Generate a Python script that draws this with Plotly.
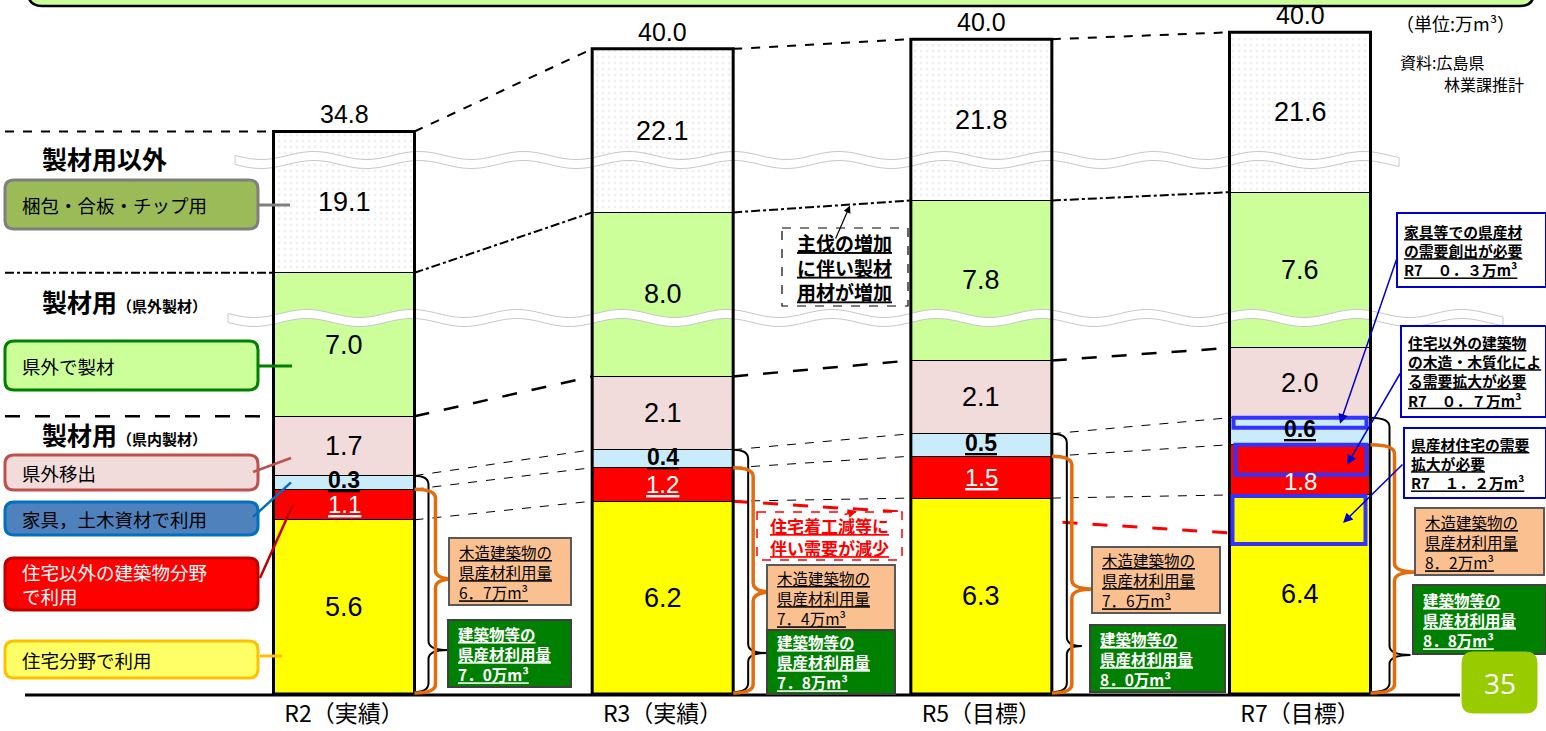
import math
import plotly.graph_objects as go

# ---------------- data (万m3) ----------------
categories   = ["R2（実績）", "R3（実績）", "R5（目標）", "R7（目標）"]
housing      = [5.6, 6.2, 6.3, 6.4]      # 住宅分野で利用
non_housing  = [1.1, 1.2, 1.5, 1.8]      # 住宅以外の建築物分野で利用
furniture    = [0.3, 0.4, 0.5, 0.6]      # 家具，土木資材で利用
outflow      = [1.7, 2.1, 2.1, 2.0]      # 県外移出
outside_sawn = [7.0, 8.0, 7.8, 7.6]      # 県外で製材
other_use    = [19.1, 22.1, 21.8, 21.6]  # 梱包・合板・チップ用
totals       = [34.8, 40.0, 40.0, 40.0]
wood_building_use = [6.7, 7.4, 7.6, 8.2]  # 木造建築物の県産材利用量
building_use      = [7.0, 7.8, 8.0, 8.8]  # 建築物等の県産材利用量
r7_needs          = [0.3, 0.7, 1.2]       # R7 必要な需要拡大量

# ---------------- layout constants ----------------
W, H = 1546, 731
BASE = 694                 # baseline (px from top)
SLOT = 318.67              # px per category
FIRST = 344.0              # px centre of first category
BARW = 141.0               # bar width px
# broken (compressed) axis: px per 万m3 inside each band
BAND_SCALE = [31.1, 27.9, 45.0, 34.9, 20.5, 7.4]
JP = "Noto Sans CJK JP"
NUM = "Liberation Sans, Noto Sans CJK JP"

series = [
    ("住宅分野で利用", housing, "#FFFF00"),
    ("住宅以外の建築物分野で利用", non_housing, "#FF0000"),
    ("家具，土木資材で利用", furniture, "#C9EBFA"),
    ("県外移出", outflow, "#F2DCDB"),
    ("県外で製材", outside_sawn, "#CCFF99"),
    ("梱包・合板・チップ用", other_use, "#FFFFFF"),
]

n = len(categories)
heights = [[v * BAND_SCALE[k] for v in vals] for k, (_, vals, _) in enumerate(series)]
bottoms, tops = [], []
run = [0.0] * n
for k in range(len(series)):
    bottoms.append(run[:])
    run = [run[i] + heights[k][i] for i in range(n)]
    tops.append(run[:])


def X(px):
    return px / W


def Y(py):
    return (BASE - py) / BASE


def P(px, py):
    return f"{X(px):.5f},{Y(py):.5f}"


def cx(i):
    return FIRST + SLOT * i


def BL(i):
    return cx(i) - BARW / 2


def BR(i):
    return cx(i) + BARW / 2


def top_py(k, i):
    return BASE - tops[k][i]


def mid_py(k, i):
    return BASE - (tops[k][i] + bottoms[k][i]) / 2


def fw(v):
    s = f"{v:.1f}"
    return s.translate(str.maketrans("0123456789.", "０１２３４５６７８９．"))


def hw(v):
    return f"{v:.1f}".replace(".", "．")


shapes, annots = [], []


def line(x0, y0, x1, y1, color="black", width=1, dash="solid", layer="above"):
    shapes.append(dict(type="line", xref="paper", yref="paper", x0=X(x0), y0=Y(y0),
                       x1=X(x1), y1=Y(y1), layer=layer,
                       line=dict(color=color, width=width, dash=dash)))


def rect(x0, y0, x1, y1, fill="rgba(0,0,0,0)", lc="black", lw=1, dash="solid", layer="above"):
    shapes.append(dict(type="rect", xref="paper", yref="paper", x0=X(x0), y0=Y(y0),
                       x1=X(x1), y1=Y(y1), fillcolor=fill, layer=layer,
                       line=dict(color=lc, width=lw, dash=dash)))


def rrect(x0, y0, x1, y1, r, fill, lc, lw):
    d = (f"M {P(x0 + r, y0)} L {P(x1 - r, y0)} Q {P(x1, y0)} {P(x1, y0 + r)} "
         f"L {P(x1, y1 - r)} Q {P(x1, y1)} {P(x1 - r, y1)} L {P(x0 + r, y1)} "
         f"Q {P(x0, y1)} {P(x0, y1 - r)} L {P(x0, y0 + r)} Q {P(x0, y0)} {P(x0 + r, y0)} Z")
    shapes.append(dict(type="path", xref="paper", yref="paper", path=d, fillcolor=fill,
                       line=dict(color=lc, width=lw)))


def brace(xl, ytop, ybot, xs, xt, yt, color, width, r=9):
    d = (f"M {P(xl, ytop)} Q {P(xs, ytop)} {P(xs, ytop + r)} L {P(xs, yt - r)} "
         f"Q {P(xs, yt)} {P(xt, yt)} Q {P(xs, yt)} {P(xs, yt + r)} "
         f"L {P(xs, ybot - r)} Q {P(xs, ybot)} {P(xl, ybot)}")
    shapes.append(dict(type="path", xref="paper", yref="paper", path=d,
                       line=dict(color=color, width=width)))


def wave(xa, xb, yc, amp=4.0, period=105.0, th=9.0):
    xs = list(range(int(xa), int(xb) + 1, 3))
    topl = [(x, yc - th / 2 + amp * math.sin(2 * math.pi * (x - xa) / period)) for x in xs]
    bot = [(x, y + th) for x, y in reversed(topl)]
    d = "M " + " L ".join(P(x, y) for x, y in topl + bot) + " Z"
    shapes.append(dict(type="path", xref="paper", yref="paper", path=d,
                       fillcolor="white", line=dict(color="#C8C8C8", width=1)))


def text(px, py, s, size, color="black", family=JP, xanchor="left", yanchor="middle",
         align="left"):
    annots.append(dict(x=X(px), y=Y(py), xref="paper", yref="paper", text=s,
                       showarrow=False, xanchor=xanchor, yanchor=yanchor, align=align,
                       font=dict(size=size, color=color, family=family)))


def arrow(hx, hy, tx, ty, color="black", width=1.2, head=2, size=1.2):
    annots.append(dict(x=X(hx), y=Y(hy), xref="paper", yref="paper", text="",
                       ax=tx - hx, ay=ty - hy, axref="pixel", ayref="pixel",
                       showarrow=True, arrowhead=head, arrowsize=size, arrowwidth=width,
                       arrowcolor=color, standoff=0, startstandoff=0))


# ---------------- bars ----------------
fig = go.Figure()
for k, (name, vals, color) in enumerate(series):
    marker = dict(color=color, line=dict(color="black", width=1))
    if color == "#FFFFFF":
        marker["pattern"] = dict(shape=".", fgcolor="#E2E2E2", bgcolor="white",
                                 size=6, solidity=0.2)
    fig.add_trace(go.Bar(x=categories, y=heights[k], name=name, marker=marker,
                         width=BARW / SLOT, customdata=vals,
                         hovertemplate="%{x}<br>" + name + ": %{customdata}万m³<extra></extra>"))

# ---------------- connecting lines between bars (below bars) ----------------
conn = [(5, "dash", 2), (4, "dashdot", 2), (3, "longdash", 2.5),
        (2, "dash", 1), (1, "dash", 1), (0, "dash", 1)]
for i in range(n - 1):
    for k, dsh, wdt in conn:
        line(BR(i), top_py(k, i), BL(i + 1), top_py(k, i + 1), width=wdt, dash=dsh,
             layer="below")
# left band separators at R2
line(5, top_py(5, 0), BL(0), top_py(5, 0), width=2, dash="dash", layer="below")
line(5, top_py(4, 0), BL(0), top_py(4, 0), width=2, dash="dashdot", layer="below")
line(5, top_py(3, 0), BL(0), top_py(3, 0), width=2.5, dash="longdash", layer="below")

# red dashed decrease line (R3 -> R7)
ry0 = top_py(0, 1)
ry1 = top_py(0, 3) + 38
line(BR(1), ry0, BL(3), ry1, color="#FF0000", width=3, dash="longdash", layer="below")

# header frame
rrect(28, -40, 1534, 6, 14, "#CCFF99", "black", 2.5)

# wavy break bands
wave(235, 1400, 160)
wave(228, 1505, 318)

# bar outlines
for i in range(n):
    rect(BL(i), top_py(5, i), BR(i), BASE, lc="black", lw=3)

# baseline
line(25, BASE + 1, 1460, BASE + 1, width=3)

# ---------------- segment & total labels ----------------
for i in range(n):
    text(cx(i), top_py(5, i) - 1, f"{totals[i]:.1f}", 25, family=NUM, xanchor="center",
         yanchor="bottom")
    for k in (0, 3, 4, 5):
        text(cx(i), mid_py(k, i), f"{series[k][1][i]:.1f}", 27, family=NUM, xanchor="center")
    # red segment
    if i == n - 1:
        text(cx(i), top_py(0, i) - 13, f"{non_housing[i]:.1f}", 24, color="white",
             family=NUM, xanchor="center")
    else:
        text(cx(i), mid_py(1, i), f"<u>{non_housing[i]:.1f}</u>", 24, color="white",
             family=NUM, xanchor="center")
    # furniture segment
    text(cx(i), mid_py(2, i) - 2, f"<b><u>{furniture[i]:.1f}</u></b>", 23, family=NUM,
         xanchor="center")

# ---------------- left side headers / label boxes ----------------
text(40, top_py(5, 0) + 27, "<b>製材用以外</b>", 25)
text(40, top_py(4, 0) + 28,
     "<b>製材用</b><span style='font-size:15px'><b>（県外製材）</b></span>", 25)
text(40, top_py(3, 0) + 18,
     "<b>製材用</b><span style='font-size:15px'><b>（県内製材）</b></span>", 25)

left_boxes = [
    (180, 229, "#9BBB59", "#7F7F7F", "梱包・合板・チップ用", "black"),
    (341, 390, "#CCFF99", "#008000", "県外で製材", "black"),
    (455, 490, "#F2DCDB", "#C0504D", "県外移出", "black"),
    (502, 535, "#4F81BD", "#0070C0", "家具，土木資材で利用", "black"),
    (558, 610, "#FF0000", "#C00000", "住宅以外の建築物分野<br>で利用", "white"),
    (641, 678, "#FFFF66", "#FFC000", "住宅分野で利用", "black"),
]
for y0, y1, fill, lc, s, tc in left_boxes:
    rrect(5, y0, 258, y1, 9, fill, lc, 3)
    text(20, (y0 + y1) / 2, s, 18.5, color=tc)

line(258, 205, 290, 205, color="#7F7F7F", width=3)
line(258, 366, 292, 366, color="#008000", width=3)
line(253, 472, 291, mid_py(3, 0) + 12, color="#C0504D", width=2.5)
line(253, 517, 291, mid_py(2, 0), color="#0070C0", width=2.5)
line(260, 578, 293, mid_py(1, 0), color="#C00000", width=2.5)
line(260, 656, 282, 656, color="#FFC000", width=3)

# ---------------- braces & usage boxes ----------------
black_sp = [14, 15, 15, 19]
black_tip = [(33, 650), (33, 653), (30, 646), (40, 655)]
orange_sp = [21, 20, 20, 24]
orange_tip = [(39, 579), (40, 592), (42, 589), (46, 572)]
for i in range(n):
    brace(BR(i), top_py(2, i), BASE - 2, BR(i) + black_sp[i], BR(i) + black_tip[i][0],
          black_tip[i][1], "black", 2)
    brace(BR(i), top_py(1, i), BASE - 1, BR(i) + orange_sp[i], BR(i) + orange_tip[i][0],
          orange_tip[i][1], "#E46C0A", 3.5)

orange_boxes = [(449, 538, 571, 605), (767, 565, 895, 630), (1092, 547, 1220, 613),
                (1415, 508, 1544, 575)]
green_boxes = [(448, 620, 571, 687), (767, 630, 895, 694), (1090, 625, 1225, 692),
               (1413, 585, 1546, 654)]
for i in range(n):
    x0, y0, x1, y1 = orange_boxes[i]
    rect(x0, y0, x1, y1, fill="#FAC090", lc="#595959", lw=2)
    text(x0 + 8, (y0 + y1) / 2,
         f"<u>木造建築物の</u><br><u>県産材利用量</u><br><u>{hw(wood_building_use[i])}万m³</u>",
         15.5)
    x0, y0, x1, y1 = green_boxes[i]
    rect(x0, y0, x1, y1, fill="#008000", lc="#404040", lw=2)
    text(x0 + 8, (y0 + y1) / 2,
         f"<b><u>建築物等の</u><br><u>県産材利用量</u><br><u>{hw(building_use[i])}万m³</u></b>",
         15.5, color="white")

# ---------------- R7 highlight boxes & notes ----------------
i7 = n - 1
b1 = (BL(i7) + 4, top_py(2, i7), BR(i7) - 4, top_py(2, i7) + 10)
b2 = (BL(i7) + 6, top_py(1, i7), BR(i7) - 4, top_py(1, i7) + 30)
b3 = (BL(i7) + 3, top_py(0, i7) + 1, BR(i7) - 5, top_py(0, i7) + 49)
for bx in (b1, b2, b3):
    rect(*bx, lc="#3333FF", lw=4)

notes = [
    ((1397, 213, 1546, 287), f"<b><u>家具等での県産材</u><br><u>の需要創出が必要</u><br><u>R7　{fw(r7_needs[0])}万m³</u></b>",
     (1397, 258), (1340, b1[1] + 6)),
    ((1401, 326, 1546, 417), f"<b><u>住宅以外の建築物</u><br><u>の木造・木質化によ</u><br><u>る需要拡大が必要</u><br><u>R7　{fw(r7_needs[1])}万m³</u></b>",
     (1401, 372), (1347, b2[1] + 20)),
    ((1404, 428, 1546, 498), f"<b><u>県産材住宅の需要</u><br><u>拡大が必要</u><br><u>R7　{fw(r7_needs[2])}万m³</u></b>",
     (1404, 463), (1343, b3[1] + 27)),
]
for (x0, y0, x1, y1), s, tail, head in notes:
    rect(x0, y0, x1, y1, fill="white", lc="#0000CC", lw=2)
    text(x0 + 5, (y0 + y1) / 2, s, 14.8)
    arrow(head[0], head[1], tail[0], tail[1], color="#0000CC", width=1.5, size=1.3)

# ---------------- middle call-outs ----------------
rect(782, 228, 908, 306, fill="white", lc="black", lw=1.2, dash="dash")
text(845, 267, "<b><u>主伐の増加</u><br><u>に伴い製材</u><br><u>用材が増加</u></b>", 19,
     xanchor="center", align="center")
hx = 850
gy = top_py(4, 1) + (top_py(4, 2) - top_py(4, 1)) * (hx - BR(1)) / (BL(2) - BR(1))
arrow(hx, gy + 1, 835, 240, color="black", width=1.2)

rect(757, 512, 902, 560, fill="white", lc="#FF0000", lw=1.5, dash="dash")
text(829, 536, "<b><u>住宅着工減等に</u><br><u>伴い需要が減少</u></b>", 17, color="#FF0000",
     xanchor="center", align="center")
rx = 857
ryh = ry0 + (ry1 - ry0) * (rx - BR(1)) / (BL(3) - BR(1))
arrow(rx, ryh + 2, 843, 515, color="#FF0000", width=1.5)

# ---------------- unit / source / page number ----------------
text(1394, 23, "（単位:万m³）", 18)
text(1398, 62, "資料:広島県", 16)
text(1442, 84, "林業課推計", 16)
rrect(1462, 652, 1537, 713, 11, "#99CC00", "#99CC00", 1)
text(1499.5, 683, "35", 28, color="white", family="Open Sans", xanchor="center")

fig.update_layout(
    width=W, height=H, barmode="stack", showlegend=False,
    margin=dict(l=0, r=0, t=0, b=H - BASE),
    paper_bgcolor="white", plot_bgcolor="white",
    xaxis=dict(type="category", categoryorder="array", categoryarray=categories,
               range=[-FIRST / SLOT, (W - FIRST) / SLOT], showgrid=False,
               zeroline=False, showline=False, ticks="", ticklabelstandoff=4,
               tickfont=dict(size=23, color="black", family=JP), fixedrange=True),
    yaxis=dict(range=[0, BASE], visible=False, fixedrange=True),
    shapes=shapes, annotations=annots,
    font=dict(family=JP, color="black"),
)

fig.write_html("out.html")
